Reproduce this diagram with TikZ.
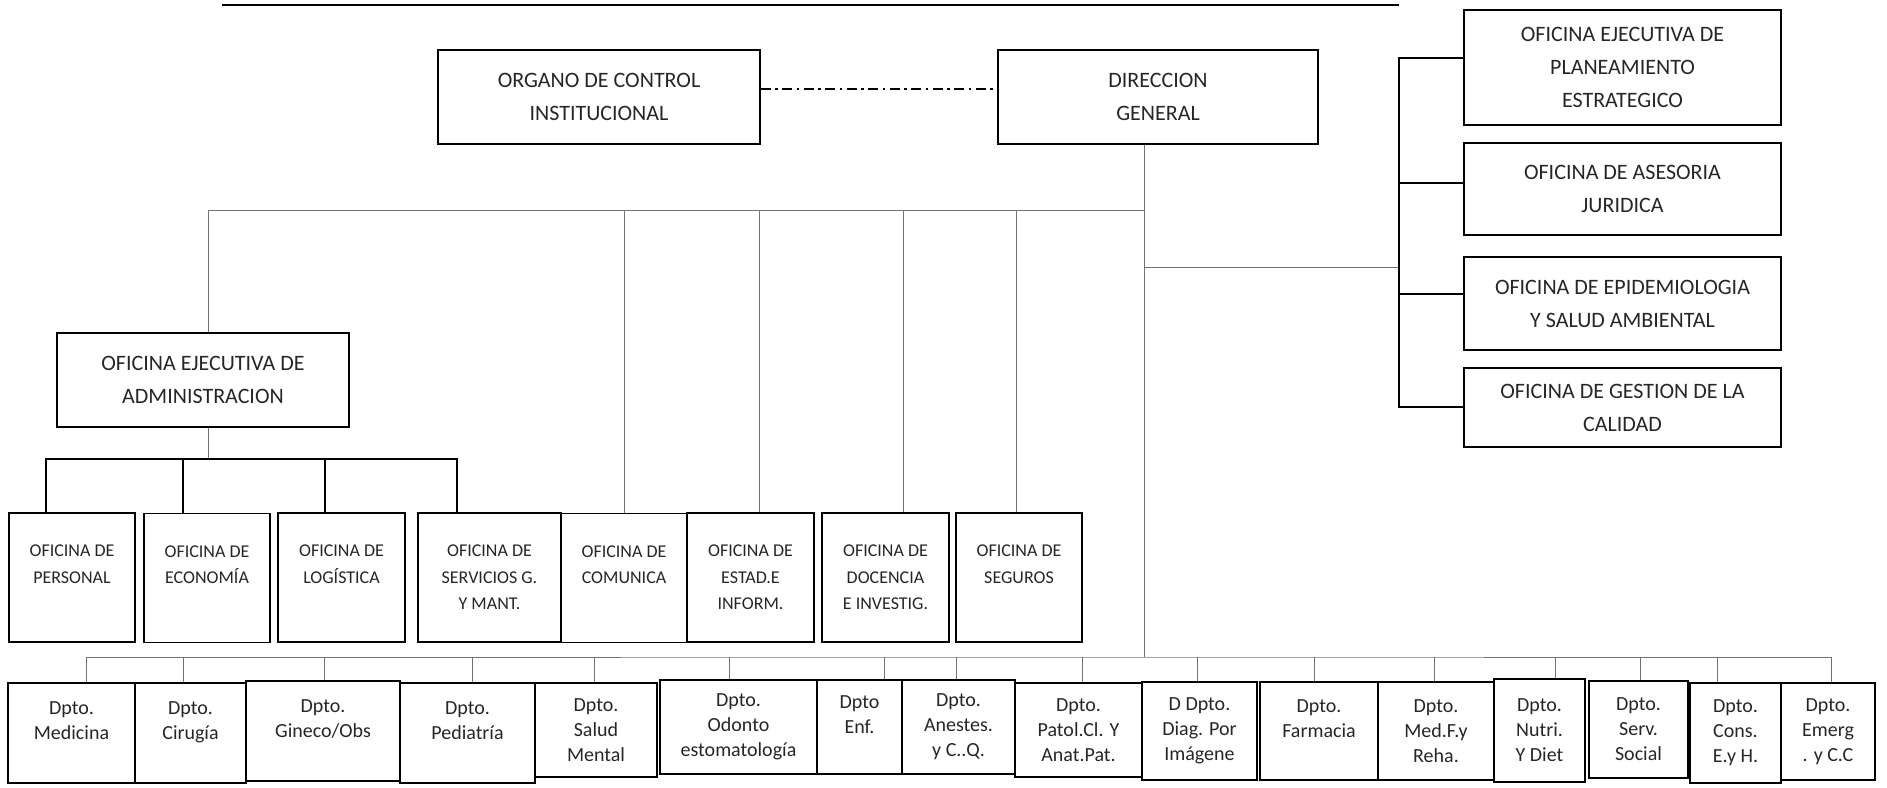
\documentclass[tikz,border=0pt]{standalone}
\usepackage{fontspec}
\setmainfont{Carlito}
\begin{document}
\begin{tikzpicture}[x=1pt, y=-1pt,
    box/.style={draw, line width=1.5pt, align=center, inner sep=0pt, text=black!85},
    topbox/.style={box, font=\fontsize{22}{33}\selectfont},
    ofibox/.style={box, font=\fontsize{18}{26.5}\selectfont, minimum height=129pt},
    dptbox/.style={box, font=\fontsize{20}{25}\selectfont},
    link/.style={line width=1pt, black!55},
    tree/.style={line width=1.5pt}]
      \useasboundingbox (0,0) rectangle (1887,787);
      \draw
        (599,97) node[topbox, minimum width=322pt, minimum height=94pt] (og){ORGANO DE CONTROL\\INSTITUCIONAL}
        (1158,97) node[topbox, minimum width=320pt, minimum height=94pt] (dg){DIRECCION\\GENERAL}
        (1622.5,67.5) node[topbox, minimum width=317pt, minimum height=115pt] (pe){OFICINA EJECUTIVA DE\\PLANEAMIENTO\\ESTRATEGICO}
        (1622.5,189) node[topbox, minimum width=317pt, minimum height=92pt] (aj){OFICINA DE ASESORIA\\JURIDICA}
        (1622.5,303.5) node[topbox, minimum width=317pt, minimum height=93pt] (ep){OFICINA DE EPIDEMIOLOGIA\\Y SALUD AMBIENTAL}
        (1622.5,407.5) node[topbox, minimum width=317pt, minimum height=79pt] (gc){OFICINA DE GESTION DE LA\\CALIDAD}
        (203,380) node[topbox, minimum width=292pt, minimum height=94pt] (adm){OFICINA EJECUTIVA DE\\ADMINISTRACION};
      \draw
        (72,577.5) node[ofibox, minimum width=126pt] (per){OFICINA DE\\PERSONAL\\ \mbox{}}
        (207,578) node[ofibox, minimum width=126pt] (eco){OFICINA DE\\ECONOMÍA\\ \mbox{}}
        (341.5,577.5) node[ofibox, minimum width=127pt] (log){OFICINA DE\\LOGÍSTICA\\ \mbox{}}
        (489.5,577.5) node[ofibox, minimum width=143pt] (ser){OFICINA DE\\SERVICIOS G.\\Y MANT.}
        (624,578) node[ofibox, minimum width=126pt] (com){OFICINA DE\\COMUNICA\\ \mbox{}}
        (750.5,577.5) node[ofibox, minimum width=127pt] (est){OFICINA DE\\ESTAD.E\\INFORM.}
        (885.5,577.5) node[ofibox, minimum width=127pt] (doc){OFICINA DE\\DOCENCIA\\E INVESTIG.}
        (1019,577.5) node[ofibox, minimum width=126pt] (seg){OFICINA DE\\SEGUROS\\ \mbox{}};
      \draw
        (71.5,733) node[dptbox, minimum width=127pt, minimum height=100pt] (m1){Dpto.\\Medicina\\ \mbox{}}
        (190.5,733) node[dptbox, minimum width=111pt, minimum height=100pt] (m2){Dpto.\\Cirugía\\ \mbox{}}
        (323,731) node[dptbox, minimum width=154pt, minimum height=100pt] (m3){Dpto.\\Gineco/Obs\\ \mbox{}}
        (467.5,733) node[dptbox, minimum width=135pt, minimum height=100pt] (m4){Dpto.\\Pediatría\\ \mbox{}}
        (596,730) node[dptbox, minimum width=122pt, minimum height=94pt] (m5){Dpto.\\Salud\\Mental}
        (738.5,727) node[dptbox, minimum width=157pt, minimum height=94pt] (m6){Dpto.\\Odonto\\estomatología}
        (859.5,727) node[dptbox, minimum width=85pt, minimum height=94pt] (m7){Dpto\\Enf.\\ \mbox{}}
        (958.5,727) node[dptbox, minimum width=113pt, minimum height=94pt] (m8){Dpto.\\Anestes.\\y C..Q.}
        (1078.5,730) node[dptbox, minimum width=127pt, minimum height=94pt] (m9){Dpto.\\Patol.Cl. Y\\Anat.Pat.}
        (1199.5,731) node[dptbox, minimum width=115pt, minimum height=98pt] (m10){D Dpto.\\Diag. Por\\Imágene}
        (1319,731) node[dptbox, minimum width=118pt, minimum height=98pt] (m11){Dpto.\\Farmacia\\ \mbox{}}
        (1436,731) node[dptbox, minimum width=116pt, minimum height=98pt] (m12){Dpto.\\Med.F.y\\Reha.}
        (1539.5,730.5) node[dptbox, minimum width=91pt, minimum height=103pt] (m13){Dpto.\\Nutri.\\Y Diet}
        (1638.5,729.5) node[dptbox, minimum width=99pt, minimum height=97pt] (m14){Dpto.\\Serv.\\Social}
        (1735.5,733) node[dptbox, minimum width=91pt, minimum height=100pt] (m15){Dpto.\\Cons.\\E.y H.}
        (1828,731.5) node[dptbox, minimum width=94pt, minimum height=97pt] (m16){Dpto.\\Emerg\\. y C.C};
      \coordinate (ub) at (1144,210);
      \coordinate (bb) at (1144,657);
      \coordinate (ab) at (208,459);
      \coordinate (rbm) at (1399,267);
      \coordinate (rb1) at (1399,58);
      \coordinate (rb2) at (1399,183);
      \coordinate (rb3) at (1399,294);
      \coordinate (rb4) at (1399,407);
      \draw[line width=2.5pt] (222,5) -- (1399,5);
      \begin{scope}[-]
        \draw[line width=1.2pt, dash pattern=on 10pt off 4.5pt on 2.5pt off 4.5pt] ([yshift=8pt]og.east) -- ([yshift=8pt]dg.west);
        \draw[link] (dg.south -| bb) -- (bb);
        \draw[link] ([xshift=5pt]adm.north) |- (ub);
        \draw[link] (com.north) -- (com.north |- ub);
        \draw[link] ([xshift=9pt]est.north) -- ([xshift=9pt]est.north |- ub);
        \draw[link] ([xshift=18pt]doc.north) -- ([xshift=18pt]doc.north |- ub);
        \draw[link] ([xshift=-3pt]seg.north) -- ([xshift=-3pt]seg.north |- ub);
        \draw[link] (ub |- rbm) -- (rbm);
        \draw[tree] (rb1 -| pe.west) -- (rb1) -- (rb4) -- (rb4 -| gc.west);
        \draw[tree] (rb2) -- (rb2 -| aj.west);
        \draw[tree] (rb3) -- (rb3 -| ep.west);
        \draw[link] ([xshift=5pt]adm.south) -- (ab);
        \draw[tree] ([xshift=-26pt]per.north) |- (ab) -| ([xshift=-32.5pt]ser.north);
        \draw[tree] ([xshift=-24pt]eco.north) -- ([xshift=-24pt]eco.north |- ab);
        \draw[tree] ([xshift=-16.5pt]log.north) -- ([xshift=-16.5pt]log.north |- ab);
        \draw[link] ([xshift=14.5pt]m1.north) |- (bb) -| ([xshift=3pt]m16.north);
        \draw[link] ([xshift=-7.5pt]m2.north) -- ([xshift=-7.5pt]m2.north |- bb);
        \draw[link] ([xshift=1pt]m3.north) -- ([xshift=1pt]m3.north |- bb);
        \draw[link] ([xshift=4.5pt]m4.north) -- ([xshift=4.5pt]m4.north |- bb);
        \draw[link] ([xshift=-2pt]m5.north) -- ([xshift=-2pt]m5.north |- bb);
        \draw[link] ([xshift=-9.5pt]m6.north) -- ([xshift=-9.5pt]m6.north |- bb);
        \draw[link] ([xshift=24.5pt]m7.north) -- ([xshift=24.5pt]m7.north |- bb);
        \draw[link] ([xshift=-2.5pt]m8.north) -- ([xshift=-2.5pt]m8.north |- bb);
        \draw[link] ([xshift=3.5pt]m9.north) -- ([xshift=3.5pt]m9.north |- bb);
        \draw[link] ([xshift=-2.5pt]m10.north) -- ([xshift=-2.5pt]m10.north |- bb);
        \draw[link] ([xshift=-5pt]m11.north) -- ([xshift=-5pt]m11.north |- bb);
        \draw[link] ([xshift=-2pt]m12.north) -- ([xshift=-2pt]m12.north |- bb);
        \draw[link] ([xshift=15.5pt]m13.north) -- ([xshift=15.5pt]m13.north |- bb);
        \draw[link] ([xshift=1.5pt]m14.north) -- ([xshift=1.5pt]m14.north |- bb);
        \draw[link] ([xshift=-18.5pt]m15.north) -- ([xshift=-18.5pt]m15.north |- bb);
      \end{scope}
    \end{tikzpicture}
\end{document}
